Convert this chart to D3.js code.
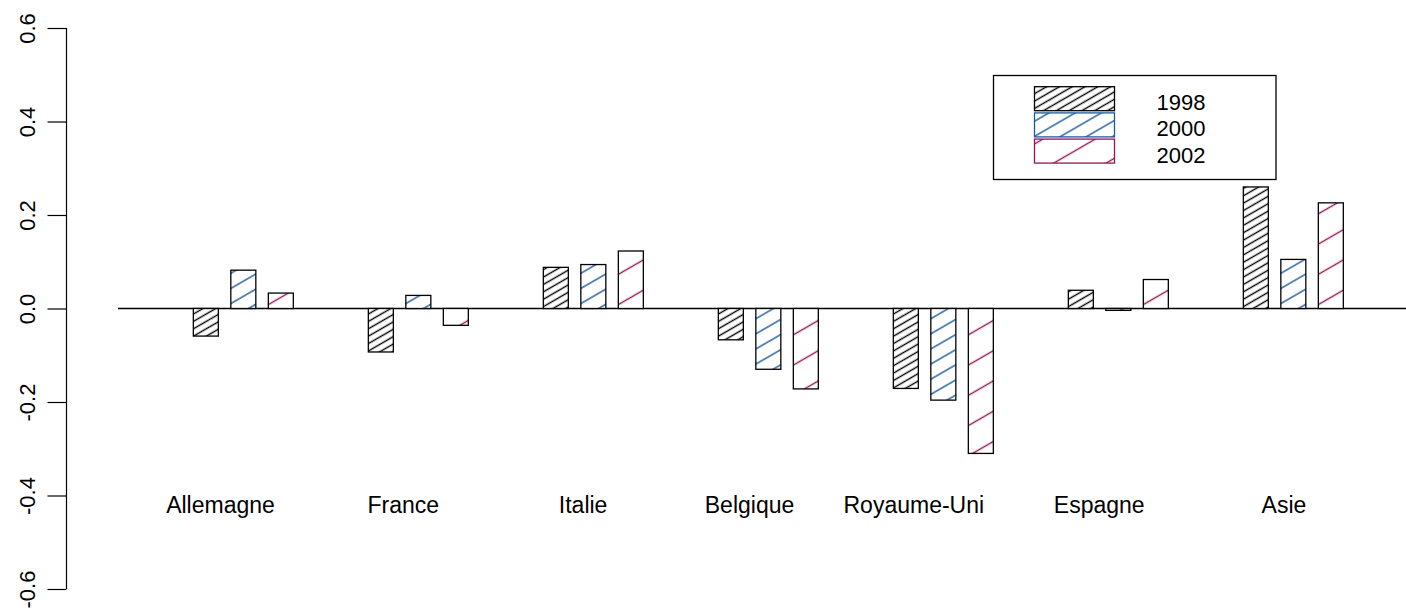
<!DOCTYPE html>
<html>
<head>
<meta charset="utf-8">
<script src="https://cdn.jsdelivr.net/npm/d3@7"></script>
<style>
  html, body { margin: 0; padding: 0; background: #fff; }
  svg { display: block; font-family: "Liberation Sans", Arial, sans-serif; }
</style>
</head>
<body>
<svg id="chart" width="1406" height="611"></svg>
<script>
// ---- data ----
const categories = ["Allemagne", "France", "Italie", "Belgique", "Royaume-Uni", "Espagne", "Asie"];
const seriesNames = ["1998", "2000", "2002"];
const values1998 = [-0.059, -0.093, 0.088, -0.067, -0.171, 0.039, 0.260];
const values2000 = [0.082, 0.028, 0.094, -0.130, -0.196, -0.004, 0.105];
const values2002 = [0.033, -0.036, 0.123, -0.172, -0.310, 0.062, 0.226];
const yTicks = [-0.6, -0.4, -0.2, 0.0, 0.2, 0.4, 0.6];

const seriesValues = [values1998, values2000, values2002];
const colors = ["#000000", "#1a5a9e", "#961455"];
const hatchSpacing = [6.4, 13.1, 26.2];

const svg = d3.select("#chart");
const fontSize = 22;
const labelFontSize = 23;

// ---- scales ----
const y = d3.scaleLinear().domain([-0.6, 0.6]).range([589, 28]);
const x0 = d3.scaleBand().domain(categories).range([193.33, 1343.33])
  .paddingInner(75 / 175).paddingOuter(0);
const x1 = d3.scaleBand().domain(seriesNames).range([0, x0.bandwidth()])
  .paddingInner(1 / 3).paddingOuter(0);

// ---- hatch patterns ----
const defs = svg.append("defs");
seriesNames.forEach((s, i) => {
  const sp = hatchSpacing[i];
  const p = defs.append("pattern")
    .attr("id", "hatch" + i)
    .attr("patternUnits", "userSpaceOnUse")
    .attr("width", 20).attr("height", sp)
    .attr("patternTransform", "rotate(-30)");
  p.append("rect").attr("width", 20).attr("height", sp).attr("fill", "#fff");
  p.append("line")
    .attr("x1", -1).attr("x2", 21).attr("y1", sp / 2).attr("y2", sp / 2)
    .attr("stroke", colors[i]).attr("stroke-width", 1.4);
});

// ---- y axis ----
const axisX = 66.5;
const yAxis = svg.append("g").attr("transform", `translate(${axisX},0)`)
  .call(d3.axisLeft(y).tickValues(yTicks).tickSize(19).tickPadding(0)
    .tickFormat(d3.format(".1f")));
yAxis.selectAll("path, line").attr("stroke", "#000").attr("stroke-width", 1.2);
yAxis.select(".domain").attr("d", `M0,${y(0.6)}V${y(-0.6)}`);
yAxis.selectAll("text").remove();
yAxis.selectAll(".tick").append("text")
  .attr("transform", "translate(-32,0) rotate(-90)")
  .attr("text-anchor", "middle")
  .attr("fill", "#000")
  .attr("font-size", fontSize)
  .attr("font-family", "Liberation Sans, Arial, sans-serif")
  .text(d => d3.format(".1f")(d).replace("−", "-"));

// ---- zero line ----
svg.append("line")
  .attr("x1", 118).attr("x2", 1406)
  .attr("y1", y(0)).attr("y2", y(0))
  .attr("stroke", "#000").attr("stroke-width", 1.4);

// ---- bars ----
const groups = svg.append("g").selectAll("g")
  .data(categories)
  .join("g")
  .attr("transform", d => `translate(${x0(d)},0)`);

groups.selectAll("rect")
  .data((d, ci) => seriesNames.map((s, si) => ({ s, si, v: seriesValues[si][ci] })))
  .join("rect")
  .attr("x", d => x1(d.s))
  .attr("width", x1.bandwidth())
  .attr("y", d => Math.min(y(d.v), y(0)))
  .attr("height", d => Math.abs(y(d.v) - y(0)))
  .attr("fill", d => `url(#hatch${d.si})`)
  .attr("stroke", "#000")
  .attr("stroke-width", 1.3);

// ---- category labels ----
const labels = svg.append("g").selectAll("text")
  .data(categories)
  .join("text")
  .attr("y", 513)
  .attr("font-size", labelFontSize)
  .attr("fill", "#000")
  .text(d => d);
labels.attr("x", function (d) {
  const w = this.getComputedTextLength();
  return x0(d) + x0.bandwidth() / 2 - 0.71 * w;
});

// ---- legend ----
const lg = svg.append("g");
lg.append("rect")
  .attr("x", 993.5).attr("y", 75.5).attr("width", 282.5).attr("height", 104)
  .attr("fill", "#fff").attr("stroke", "#000").attr("stroke-width", 1.3);
seriesNames.forEach((s, i) => {
  const top = 86.7 + i * 26.2;
  lg.append("rect")
    .attr("x", 1034.5).attr("y", top).attr("width", 80).attr("height", 24)
    .attr("fill", `url(#hatch${i})`)
    .attr("stroke", colors[i]).attr("stroke-width", 1.3);
  lg.append("text")
    .attr("x", 1156.5).attr("y", top + 12 + 11.5)
    .attr("font-size", fontSize).attr("fill", "#000")
    .text(s);
});
</script>
</body>
</html>
